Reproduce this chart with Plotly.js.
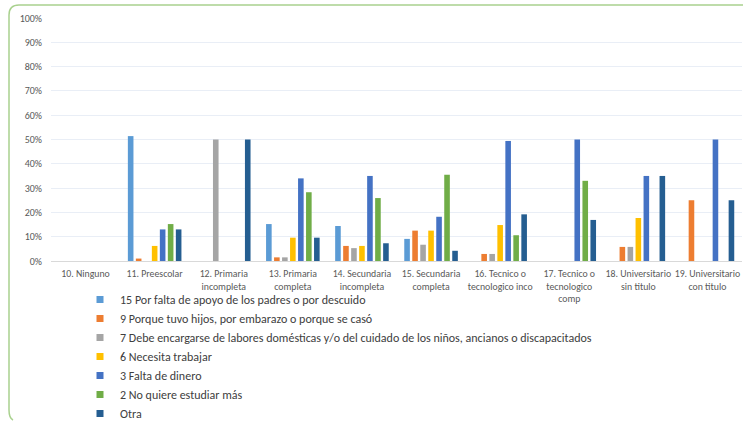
<!DOCTYPE html>
<html>
<head>
<meta charset="utf-8">
<script src="https://cdn.plot.ly/plotly-3.0.1.min.js"></script>
<style>html,body{margin:0;padding:0;background:#fff;}#chart{width:743px;height:421px;}</style>
</head>
<body>
<div id="chart"></div>
<script>
const categories = [
  "10. Ninguno",
  "11. Preescolar",
  "12. Primaria<br>incompleta",
  "13. Primaria<br>completa",
  "14. Secundaria<br>incompleta",
  "15. Secundaria<br>completa",
  "16. Tecnico o<br>tecnologico inco",
  "17. Tecnico o<br>tecnologico<br>comp",
  "18. Universitario<br>sin titulo",
  "19. Universitario<br>con titulo"
];
const seriesNames = [
  "15 Por falta de apoyo de los padres o por descuido",
  "9 Porque tuvo hijos, por embarazo o porque se casó",
  "7 Debe encargarse de labores domésticas y/o del cuidado de los niños, ancianos o discapacitados",
  "6 Necesita trabajar",
  "3 Falta de dinero",
  "2 No quiere estudiar más",
  "Otra"
];
const falta_apoyo = [0, 0.514, 0, 0.152, 0.144, 0.091, 0, 0, 0, 0];
const tuvo_hijos  = [0, 0.010, 0, 0.015, 0.062, 0.125, 0.029, 0, 0.058, 0.25];
const labores     = [0, 0, 0.50, 0.015, 0.053, 0.067, 0.029, 0, 0.058, 0];
const trabajar    = [0, 0.062, 0, 0.096, 0.062, 0.125, 0.148, 0, 0.177, 0];
const dinero      = [0, 0.13, 0, 0.34, 0.35, 0.182, 0.494, 0.50, 0.35, 0.50];
const no_quiere   = [0, 0.152, 0, 0.283, 0.259, 0.355, 0.106, 0.33, 0, 0];
const otra        = [0, 0.13, 0.50, 0.096, 0.073, 0.042, 0.192, 0.169, 0.35, 0.25];
const yTicks = [0, 0.1, 0.2, 0.3, 0.4, 0.5, 0.6, 0.7, 0.8, 0.9, 1.0];
const yTickLabels = ["0%","10%","20%","30%","40%","50%","60%","70%","80%","90%","100%"];

const seriesValues = [falta_apoyo, tuvo_hijos, labores, trabajar, dinero, no_quiere, otra];
const colors = ["#5B9BD5","#ED7D31","#A5A5A5","#FFC000","#4472C4","#70AD47","#255E91"];

const FONT = "Carlito, Calibri, Lato, 'Liberation Sans', sans-serif";
const W = 743, H = 421;
const M = {l: 51, r: 1, t: 18, b: 160};
const pw = W - M.l - M.r, ph = H - M.t - M.b;
const px = x => (x - M.l) / pw;
const py = y => (H - M.b - y) / ph;

const traces = [];
seriesValues.forEach((vals, i) => {
  traces.push({
    type: "bar", x: categories, y: vals, name: seriesNames[i],
    marker: {color: colors[i]}, legendgroup: "g" + i, showlegend: false,
    hoverinfo: "skip"
  });
});
seriesValues.forEach((vals, i) => {
  traces.push({
    type: "scatter", mode: "markers", x: [null], y: [null], name: seriesNames[i],
    marker: {color: colors[i], symbol: "square", size: 7}, legendgroup: "g" + i,
    showlegend: true, hoverinfo: "skip"
  });
});

const borderPath = `M ${px(13)},${py(420)} Q ${px(9)},${py(418)} ${px(9)},${py(410)} L ${px(9)},${py(15)} Q ${px(9)},${py(5)} ${px(19)},${py(5)} L ${px(745)},${py(5)}`;

const layout = {
  width: W, height: H,
  margin: Object.assign({autoexpand: false}, M),
  paper_bgcolor: "#ffffff", plot_bgcolor: "#ffffff",
  font: {family: FONT, color: "#595959", size: 9},
  barmode: "group", bargap: 0.19, bargroupgap: 0.3,
  showlegend: true,
  legend: {
    xref: "container", yref: "container",
    x: 80 / W, y: 1 - 285 / H, xanchor: "left", yanchor: "top",
    orientation: "v", font: {family: FONT, size: 12, color: "#404040"},
    bgcolor: "rgba(0,0,0,0)", traceorder: "normal", tracegroupgap: 0
  },
  xaxis: {
    type: "category", tickangle: 0, showgrid: false, zeroline: false,
    showline: true, linecolor: "#d9d9d9", linewidth: 1, automargin: false,
    ticks: "", tickfont: {family: FONT, size: 9.8, color: "#595959"},
    ticklabelstandoff: 3, fixedrange: true
  },
  yaxis: {
    range: [0, 1], tickvals: yTicks, ticktext: yTickLabels, automargin: false,
    showgrid: true, gridcolor: "#e9eef6", gridwidth: 1, zeroline: false,
    showline: false, ticks: "", tickfont: {family: FONT, size: 10, color: "#595959"},
    ticklabelstandoff: 8, fixedrange: true
  },
  shapes: [{
    type: "path", xref: "paper", yref: "paper", path: borderPath,
    line: {color: "#a9d18e", width: 1.5}, fillcolor: "rgba(0,0,0,0)", layer: "below"
  }]
};

Plotly.newPlot("chart", traces, layout, {displayModeBar: false, staticPlot: true});
</script>
</body>
</html>
